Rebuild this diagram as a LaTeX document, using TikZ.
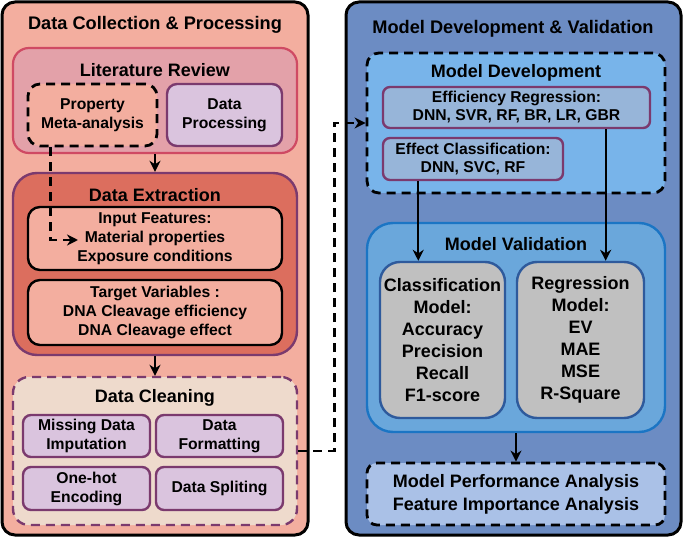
\documentclass[tikz,border=0pt]{standalone}
\usepackage{fontspec}
\setmainfont{Liberation Sans}
\usetikzlibrary{arrows.meta,calc}
\definecolor{salmon}{HTML}{F3AE9F}
\definecolor{litfill}{HTML}{E3A1A9}
\definecolor{litdraw}{HTML}{CF4A63}
\definecolor{lav}{HTML}{DAC4DE}
\definecolor{purp}{HTML}{7B3A6E}
\definecolor{extfill}{HTML}{DC6E5E}
\definecolor{cleanfill}{HTML}{EEDACC}
\definecolor{rightfill}{HTML}{6C8CC3}
\definecolor{devfill}{HTML}{78B4EA}
\definecolor{regfill}{HTML}{97B5D9}
\definecolor{valfill}{HTML}{6AA7DB}
\definecolor{valdraw}{HTML}{1B75C4}
\definecolor{grayfill}{HTML}{C0C0C0}
\definecolor{graydraw}{HTML}{2E5A9C}
\definecolor{finfill}{HTML}{AAC1E7}
\begin{document}
\begin{tikzpicture}[x=1pt,y=-1pt,
  box/.style={rectangle, inner sep=0pt, align=center, font=\bfseries\fontsize{15.7}{19}\selectfont},
  bigbox/.style={box, draw=black, line width=3pt, rounded corners=13pt},
  dsh/.style={dash pattern=on 9pt off 6pt},
  ttl/.style={font=\bfseries\fontsize{18.2}{20}\selectfont, inner sep=0pt},
  sttl/.style={font=\bfseries\fontsize{18}{20}\selectfont, inner sep=0pt},
  vtxt/.style={font=\bfseries\fontsize{18}{22}\selectfont},
  arr/.style={line width=2.2pt, -{Stealth[length=11pt,width=11pt,inset=3.5pt]}},
]
\useasboundingbox (0,0) rectangle (685,540);

% ---------- left panel ----------
\node[bigbox, fill=salmon, minimum width=306pt, minimum height=533pt] (left) at (155,268.5) {};
\node[ttl] (lt) at (155,25) {Data Collection \& Processing};

\node[box, draw=litdraw, fill=litfill, line width=2.2pt, rounded corners=16pt, minimum width=284pt, minimum height=105pt] (lit) at (155,100.5) {};
\node[sttl] (litt) at (155,70) {Literature Review};
\node[box, draw=black, dsh, fill=salmon, line width=2.8pt, rounded corners=12pt, minimum width=129pt, minimum height=62pt] (pma) at (92.5,115) {Property\\Meta-analysis};
\node[box, draw=purp, fill=lav, line width=2.4pt, rounded corners=10pt, minimum width=115pt, minimum height=62pt] (dp) at (224.5,115) {Data\\Processing};

\node[box, draw=purp, fill=extfill, line width=2.4pt, rounded corners=24pt, minimum width=284pt, minimum height=182pt] (ext) at (155,264) {};
\node[sttl] (extt) at (155,195) {Data Extraction};
\node[box, draw=black, fill=salmon, line width=2.4pt, rounded corners=12pt, minimum width=254pt, minimum height=63pt] (inp) at (155,238.5) {Input Features:\\Material properties\\Exposure conditions};
\node[box, draw=black, fill=salmon, line width=2.4pt, rounded corners=12pt, minimum width=254pt, minimum height=65pt] (tgt) at (155,312.5) {Target Variables :\\DNA Cleavage efficiency\\DNA Cleavage effect};

\node[box, draw=purp, dsh, fill=cleanfill, line width=2.4pt, rounded corners=16pt, minimum width=284pt, minimum height=148pt] (cln) at (155,451) {};
\node[sttl] (clnt) at (155,398) {Data Cleaning};
\node[box, draw=purp, fill=lav, line width=2.4pt, rounded corners=8pt, minimum width=127pt, minimum height=42pt] (mdi) at (86.5,436) {Missing Data\\Imputation};
\node[box, draw=purp, fill=lav, line width=2.4pt, rounded corners=8pt, minimum width=127pt, minimum height=42pt] (df) at (219.5,436) {Data\\Formatting};
\node[box, draw=purp, fill=lav, line width=2.4pt, rounded corners=8pt, minimum width=127pt, minimum height=43pt] (ohe) at (86.5,488.5) {One-hot\\Encoding};
\node[box, draw=purp, fill=lav, line width=2.4pt, rounded corners=8pt, minimum width=127pt, minimum height=43pt] (ds) at (219.5,488.5) {Data Spliting};

% ---------- right panel ----------
\node[bigbox, fill=rightfill, minimum width=335pt, minimum height=533pt] (right) at (513.5,268.5) {};
\node[ttl] (rt) at (513,29) {Model Development \& Validation};

\node[box, draw=black, dsh, fill=devfill, line width=2.8pt, rounded corners=12pt, minimum width=298pt, minimum height=140pt] (dev) at (516,123) {};
\node[sttl] (devt) at (516,73) {Model Development};
\node[box, draw=purp, fill=regfill, line width=2.4pt, rounded corners=7pt, minimum width=267pt, minimum height=41pt, font=\bfseries\fontsize{15.7}{18}\selectfont] (er) at (516.5,107.5) {Efficiency Regression:\\DNN, SVR, RF, BR, LR, GBR};
\node[box, draw=purp, fill=regfill, line width=2.4pt, rounded corners=7pt, minimum width=180pt, minimum height=42pt, font=\bfseries\fontsize{15.7}{18}\selectfont] (ec) at (473,159) {Effect Classification:\\DNN, SVC, RF};

\node[box, draw=valdraw, fill=valfill, line width=2.4pt, rounded corners=26pt, minimum width=298pt, minimum height=209pt] (val) at (516,327.5) {};
\node[sttl] (valt) at (516,244) {Model Validation};
\node[box, vtxt, draw=graydraw, fill=grayfill, line width=2.4pt, rounded corners=20pt, minimum width=125pt, minimum height=156pt] (cls) at (442.5,340) {Classification\\Model:\\Accuracy\\Precision\\Recall\\F1-score};
\node[box, vtxt, draw=graydraw, fill=grayfill, line width=2.4pt, rounded corners=20pt, minimum width=127pt, minimum height=156pt] (reg) at (580.5,340) {Regression\\Model:\\EV\\MAE\\MSE\\R-Square};

\node[box, draw=black, dsh, fill=finfill, line width=2.8pt, rounded corners=10pt, minimum width=298pt, minimum height=62pt, font=\bfseries\fontsize{18}{23}\selectfont] (fin) at (516,494) {Model Performance Analysis\\Feature Importance Analysis};

% ---------- connectors ----------
\draw[arr] (lit.south) -- (ext.north);
\draw[arr] (ext.south) -- (cln.north);
\coordinate (ps) at ($(pma.south west)+(24,0)$);
\coordinate (mp) at (78,240);
\draw[arr, line width=2.8pt, dsh] (ps) |- (mp);
\draw[arr, line width=2.8pt, dsh] (cln.east) -- ++(36,0) |- (dev.west);
\coordinate (ecs) at ($(ec.south west)!0.2!(ec.south east)$);
\draw[arr] (ecs) -- (ecs |- cls.north);
\coordinate (ers) at ($(er.south west)!0.831!(er.south east)$);
\draw[arr] (ers) -- (ers |- reg.north);
\draw[arr] (val.south) -- (fin.north);
\end{tikzpicture}
\end{document}
